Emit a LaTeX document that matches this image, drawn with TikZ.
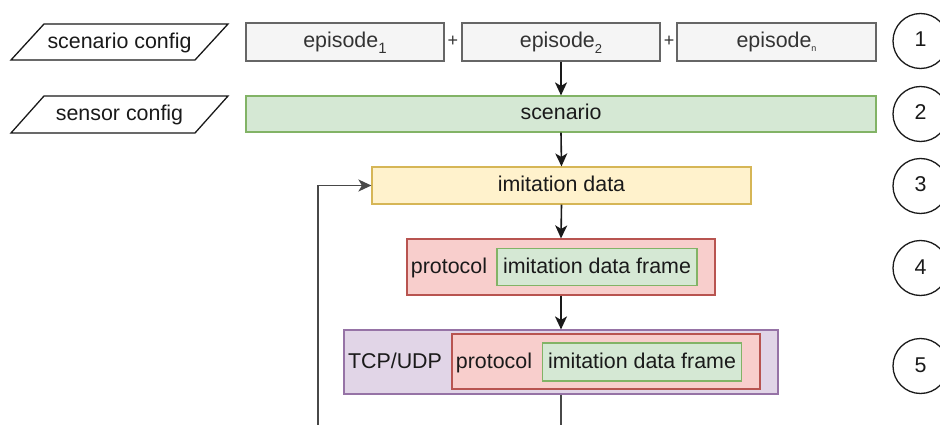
\documentclass[tikz,border=0pt]{standalone}
\usepackage{fontspec}
\setmainfont{Liberation Sans}
\usetikzlibrary{arrows.meta}

\definecolor{epfill}{HTML}{F5F5F5}
\definecolor{epline}{HTML}{666666}
\definecolor{eptext}{HTML}{333333}
\definecolor{grfill}{HTML}{D5E8D4}
\definecolor{grline}{HTML}{82B366}
\definecolor{yefill}{HTML}{FFF2CC}
\definecolor{yeline}{HTML}{D6B656}
\definecolor{rdfill}{HTML}{F8CECC}
\definecolor{rdline}{HTML}{B85450}
\definecolor{pufill}{HTML}{E1D5E7}
\definecolor{puline}{HTML}{9673A6}
\definecolor{ink}{HTML}{1A1A1A}

\tikzset{
  txt/.style={inner sep=0pt, text=ink, font=\fontsize{21.4}{24}\selectfont,
    text height=15.5pt, text depth=3.5pt},
  box/.style={txt, draw, line width=1.2pt},
  epbox/.style={box, fill=epfill, draw=epline, text=eptext,
    minimum height=38pt},
  greenbox/.style={box, fill=grfill, draw=grline},
  yellowbox/.style={box, fill=yefill, draw=yeline},
  redbox/.style={box, fill=rdfill, draw=rdline},
  purplebox/.style={box, fill=pufill, draw=puline},
  para/.style={draw=ink, line width=1.3pt, fill=white},
  plus/.style={inner sep=0pt, text=eptext, font=\fontsize{18}{20}\selectfont},
  num/.style={txt, circle, draw=ink, line width=1.3pt, minimum size=55pt,
    text height=15.5pt, text depth=3.5pt},
  flow/.style={line width=1.6pt, draw=ink,
    -{Stealth[length=13pt, width=12pt, inset=3.5pt]}},
  plain/.style={line width=1.6pt, draw=ink!80},
}

\newcommand{\epsub}[3]{episode\raisebox{#2}{\fontsize{#3}{#3}\selectfont #1}}

\begin{document}
\begin{tikzpicture}[x=1pt, y=-1pt]
  \clip (0,0) rectangle (940,425);
  \fill[white] (0,0) rectangle (940,425);

  % configuration inputs
  \draw[para] (44,24) -- (228,24) -- (195,60) -- (11,60) -- cycle;
  \node[txt] (scfg) at (119.5,42.5) {scenario config};
  \draw[para] (44,96) -- (228,96) -- (195,133) -- (11,133) -- cycle;
  \node[txt] (sncfg) at (119.5,115) {sensor config};

  % episodes
  \node[epbox, minimum width=198pt] (ep1) at (345,42) {\epsub{1}{-5.5pt}{15}};
  \node[epbox, minimum width=198pt] (ep2) at (561,42) {\epsub{2}{-5.5pt}{13}};
  \node[epbox, minimum width=199pt] (epn) at (776.5,42) {\epsub{n}{-4pt}{9}};
  \node[plus] (p1) at (453,41) {+};
  \node[plus] (p2) at (669,41) {+};

  % scenario
  \node[greenbox, minimum width=630pt, minimum height=36pt] (scen) at (561,114) {scenario};

  % imitation data
  \node[yellowbox, minimum width=379pt, minimum height=37pt] (imit) at (561.5,185.5) {imitation data};

  % protocol frame
  \node[redbox, minimum width=308pt, minimum height=56pt] (prot) at (561,267) {};
  \node[greenbox, minimum width=200pt, minimum height=37pt] (frame4) at (597,267) {imitation data frame};
  \node[txt] (protlbl) at (449,267) {protocol};

  % transport frame
  \node[purplebox, minimum width=434pt, minimum height=64pt] (tcp) at (561,362) {};
  \node[redbox, minimum width=308pt, minimum height=55pt] (prot5) at (606,361.5) {};
  \node[greenbox, minimum width=199pt, minimum height=38pt] (frame5) at (642,362) {imitation data frame};
  \node[txt] (tcplbl) at (395,362) {TCP/UDP};
  \node[txt] (protlbl5) at (494,362) {protocol};

  % stage numbers
  \node[num] (n1) at (920.5,41) {1};
  \node[num] (n2) at (920.5,114) {2};
  \node[num] (n3) at (920.5,186) {3};
  \node[num] (n4) at (920.5,268) {4};
  \node[num] (n5) at (920.5,366) {5};

  % flow
  \draw[flow] (ep2.south) -- (scen.north);
  \draw[flow] (scen.south) -- (imit.north);
  \draw[flow] (imit.south) -- (prot.north);
  \draw[flow] (prot.south) -- (tcp.north);
  \coordinate (down) at (561,430);
  \draw[plain] (tcp.south) -- (down);
  \coordinate (back) at (317.7,430);
  \draw[flow, draw=ink!80] (back) |- (imit.west);
\end{tikzpicture}
\end{document}
